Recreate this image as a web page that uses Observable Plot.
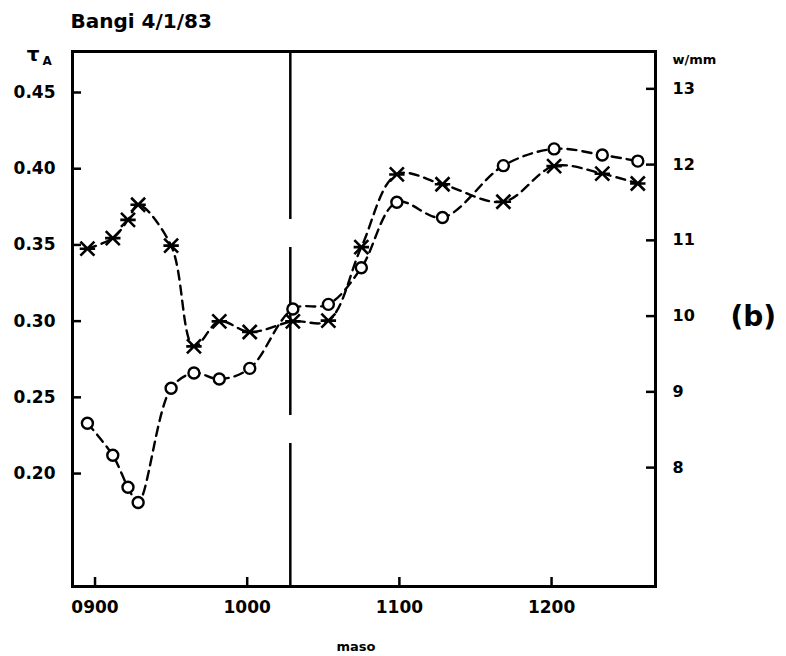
<!DOCTYPE html>
<html><head><meta charset="utf-8">
<script src="https://cdn.jsdelivr.net/npm/d3@7"></script>
<script src="https://cdn.jsdelivr.net/npm/@observablehq/plot@0.6"></script>
<style>body{margin:0;background:#fff}#chart{width:786px;height:656px}</style>
</head><body><div id="chart"></div>
<script>
// Observation times (HHMM, local)
const times = [857, 907, 913, 917, 930, 939, 949, 1001, 1018, 1032, 1045, 1059, 1117, 1141, 1201, 1220, 1234];
// Aerosol optical depth tau_A (circles, left axis)
const tauA = [0.233, 0.212, 0.191, 0.181, 0.256, 0.266, 0.262, 0.269, 0.308, 0.311, 0.335, 0.378, 0.368, 0.402, 0.413, 0.409, 0.405];
// Precipitable water w in mm (stars, right axis)
const wMM = [10.89, 11.03, 11.27, 11.47, 10.93, 9.60, 9.93, 9.79, 9.93, 9.94, 10.91, 11.87, 11.74, 11.51, 11.98, 11.88, 11.75];
const xTicks = [900, 1000, 1100, 1200];
const tauTicks = [0.20, 0.25, 0.30, 0.35, 0.40, 0.45];
const wTicks = [8, 9, 10, 11, 12, 13];
const markerTime = 1017;
const title = "Bangi 4/1/83";
const xLabel = "maso";
const rightLabel = "w/mm";
const panelLabel = "(b)";

const toHours = t => Math.floor(t / 100) + (t % 100) / 60;
const wToTau = w => 0.2039 + (w - 8) * 0.0497;
const tauToW = t => (t - 0.2039) / 0.0497 + 8;

const circles = times.map((t, i) => ({x: toHours(t), y: tauA[i]}));
const stars = times.map((t, i) => ({x: toHours(t), y: wToTau(wMM[i])}));

const starSymbol = {
  draw(ctx, size) {
    const r = Math.sqrt(size / Math.PI);
    ctx.moveTo(-r, -r); ctx.lineTo(r, r);
    ctx.moveTo(-r, r); ctx.lineTo(r, -r);
    ctx.moveTo(-r * 1.1, 0); ctx.lineTo(r * 1.1, 0);
  }
};

const W = 786, H = 656, mL = 72, mR = 131, mT = 51, mB = 70;
const frameW = W - mL - mR, frameH = H - mT - mB, tickLen = 9;
const font = "DejaVu Sans";
const chart = Plot.plot({
  width: W, height: H,
  marginLeft: mL, marginRight: mR, marginTop: mT, marginBottom: mB,
  style: {fontFamily: font, fontWeight: "bold", background: "#fff", color: "#000"},
  x: {domain: [8.852, 12.683]},
  y: {domain: [0.1259, 0.4769]},
  marks: [
    Plot.frame({stroke: "#000", strokeWidth: 3}),
    // inward tick marks
    Plot.tickY(tauTicks, {y: d => d, insetRight: frameW - tickLen, stroke: "#000", strokeWidth: 2.5}),
    Plot.tickY(wTicks, {y: wToTau, insetLeft: frameW - tickLen, stroke: "#000", strokeWidth: 2.5}),
    Plot.tickX(xTicks, {x: toHours, insetTop: frameH - tickLen, stroke: "#000", strokeWidth: 2.5}),
    // tick labels
    Plot.axisY(tauTicks, {anchor: "left", tickSize: 0, tickPadding: 17, label: null,
      tickFormat: d => d.toFixed(2), fontSize: 17, style: "letter-spacing:1px"}),
    Plot.axisY(wTicks.map(wToTau), {anchor: "right", tickSize: 0, tickPadding: 17, label: null,
      tickFormat: d => String(Math.round(tauToW(d))), fontSize: 16}),
    Plot.axisX(xTicks.map(toHours), {anchor: "bottom", tickSize: 0, tickPadding: 14, label: null,
      tickFormat: d => String(Math.round(d * 100)).padStart(4, "0"), fontSize: 17}),
    Plot.ruleX([toHours(markerTime)], {stroke: "#000", strokeWidth: 2.5, strokeDasharray: "168,28"}),
    Plot.line(circles, {x: "x", y: "y", curve: "catmull-rom", stroke: "#000", strokeWidth: 2.4, strokeDasharray: "9,6"}),
    Plot.line(stars, {x: "x", y: "y", curve: "catmull-rom", stroke: "#000", strokeWidth: 2.4, strokeDasharray: "9,6"}),
    Plot.dot(circles, {x: "x", y: "y", r: 5.5, stroke: "#000", strokeWidth: 2.4, fill: "#fff"}),
    Plot.dot(stars, {x: "x", y: "y", r: 7, symbol: starSymbol, stroke: "#000", strokeWidth: 2.6, fill: "none"}),
    Plot.text([title], {frameAnchor: "top-left", textAnchor: "start", dx: -2, dy: -30, fontSize: 20, lineAnchor: "middle"}),
    Plot.text(["τ"], {frameAnchor: "top-left", textAnchor: "end", dx: -33, dy: 3, fontSize: 20, lineAnchor: "middle"}),
    Plot.text(["A"], {frameAnchor: "top-left", textAnchor: "start", dx: -30, dy: 10, fontSize: 12, lineAnchor: "middle"}),
    Plot.text([rightLabel], {frameAnchor: "top-right", textAnchor: "start", dx: 17, dy: 8, fontSize: 13, lineAnchor: "middle"}),
    Plot.text([panelLabel], {frameAnchor: "right", textAnchor: "start", dx: 75, dy: -2, fontSize: 28, lineAnchor: "middle"}),
    Plot.text([xLabel], {frameAnchor: "bottom", textAnchor: "middle", dx: -8, dy: 60, fontSize: 13, lineAnchor: "middle"})
  ]
});
document.getElementById("chart").appendChild(chart);
</script>
</body></html>
